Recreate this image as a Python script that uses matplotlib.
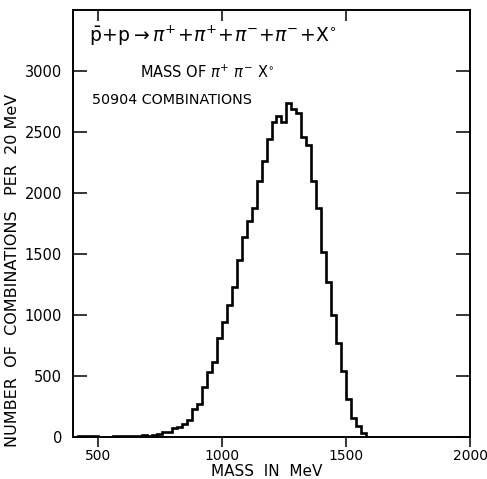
import numpy as np
import matplotlib
matplotlib.use("Agg")
import matplotlib.pyplot as plt

plt.rcParams['font.family'] = ['DejaVu Sans']
plt.rcParams['mathtext.fontset'] = 'dejavusans'

# Bin edges of the pi+ pi- X0 mass histogram (20 MeV bins)
bin_start = 420
bin_width = 20
counts = [
    6, 10, 8, 5, 3, 2, 4, 6, 10, 8,            # 420 - 620
    12, 9, 7, 14, 12, 18, 25, 40, 42, 77,      # 620 - 820
    78, 104, 140, 228, 269, 412, 536, 613, 814, 942,    # 820 - 1020
    1080, 1231, 1451, 1643, 1767, 1877, 2097, 2262, 2440, 2583,  # 1020 - 1220
    2632, 2578, 2737, 2688, 2655, 2459, 2391, 2097, 1877, 1520,  # 1220 - 1420
    1272, 998, 769, 538, 311, 159, 91, 36,     # 1420 - 1580
]
edges = bin_start + bin_width * np.arange(len(counts) + 1)

x_ticks = [500, 1000, 1500, 2000]
top_ticks = [500, 1000, 1500]
y_ticks = [0, 500, 1000, 1500, 2000, 2500, 3000]

W, H = 487, 479
fig = plt.figure(figsize=(W / 100, H / 100), dpi=100)
ax = fig.add_axes([73 / W, 1 - 437 / H, (470 - 73) / W, (437 - 10) / H])

ax.stairs(counts, edges, color='black', linewidth=1.9, baseline=0)

ax.set_xlim(400, 2000)
ax.set_ylim(0, 3500)

ax.set_xticks(x_ticks)
ax.set_xticklabels([str(v) for v in x_ticks], fontsize=10)
ax.set_yticks(y_ticks)
ax.set_yticklabels([str(v) for v in y_ticks], fontsize=10.5)

ax.tick_params(axis='x', which='major', direction='out', length=7, width=1.1,
               pad=2)
ax.tick_params(axis='y', which='major', direction='in', length=10, width=1.1,
               right=True, pad=8)

# inward ticks along the top edge
ax_top = ax.twiny()
ax_top.set_xlim(ax.get_xlim())
ax_top.set_xticks(top_ticks)
ax_top.tick_params(axis='x', direction='in', length=8, width=1.1,
                   labeltop=False, top=True)

for a in (ax, ax_top):
    for s in a.spines.values():
        s.set_linewidth(1.2)

ax.text(0.04, 0.94,
        r"$\bar{\mathrm{p}}\!+\!\mathrm{p}\rightarrow\pi^{+}\!+\!\pi^{+}\!+\!\pi^{-}\!+\!\pi^{-}\!+\!\mathrm{X}^{\circ}$",
        transform=ax.transAxes, fontsize=13.5, ha='left', va='center')
ax.text(0.17, 0.855, r"MASS OF $\pi^{+}\ \pi^{-}\ \mathrm{X}^{\circ}$",
        transform=ax.transAxes, fontsize=10.5, ha='left', va='center')
ax.text(0.047, 0.79, "50904 COMBINATIONS",
        transform=ax.transAxes, fontsize=10.3, ha='left', va='center')

fig.text(267 / W, 1 - 472 / H, "MASS  IN  MeV", fontsize=11,
         ha='center', va='center')
fig.text(13 / W, 1 - 270 / H, "NUMBER  OF  COMBINATIONS   PER  20 MeV",
         fontsize=11.5, rotation=90, ha='center', va='center')

fig.savefig("out.png", dpi=100)
